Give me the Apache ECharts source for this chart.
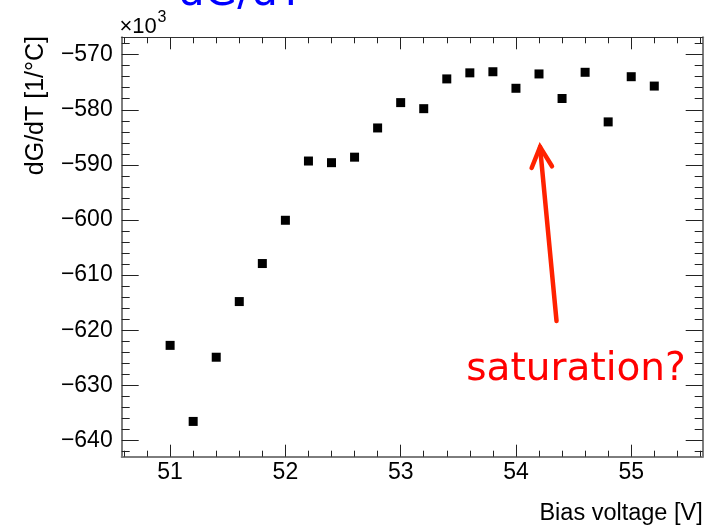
<!DOCTYPE html>
<html>
<head>
<meta charset="utf-8">
<script src="https://cdn.jsdelivr.net/npm/echarts@6/dist/echarts.min.js"></script>
<style>html,body{margin:0;padding:0;background:#fff;}#c{width:721px;height:528px;}</style>
</head>
<body>
<div id="c"></div>
<script>
// ---- data ----
const voltages = [51.0, 51.2, 51.4, 51.6, 51.8, 52.0, 52.2, 52.4, 52.6, 52.8, 53.0,
                  53.2, 53.4, 53.6, 53.8, 54.0, 54.2, 54.4, 54.6, 54.8, 55.0, 55.2];
const dGdT = [-622.75, -636.55, -624.9, -614.8, -607.9, -600.05, -589.3, -589.6, -588.6, -583.3, -578.7,
              -579.8, -574.4, -573.3, -573.1, -576.1, -573.5, -577.95, -573.2, -582.2, -574.0, -575.7];
const xMajorTicks = [51, 52, 53, 54, 55];
const yMajorTicks = [-640, -630, -620, -610, -600, -590, -580, -570];
const xRange = [50.58, 55.62];
const yRange = [-642.95, -566.85];
const titleText = 'dG/dT';
const xTitle = 'Bias voltage [V]';
const yTitle = 'dG/dT [1/°C]';
const exponentText = '×10';
const exponentSup = '3';
const annotationText = 'saturation?';
// arrow annotation in data coordinates: tail, tip, left wing, right wing
const arrowTail = [54.352, -618.34];
const arrowTip = [54.209, -586.74];
const arrowWingL = [54.136, -590.56];
const arrowWingR = [54.3125, -590.25];

// minor ticks (ROOT style: 5 divisions per major)
const xMinorTicks = [];
for (let k = 253; k <= 278; k++) { const v = Math.round(k * 2) / 10; if (v > xRange[0] && v < xRange[1] && Math.abs(v - Math.round(v)) > 1e-9) xMinorTicks.push(v); }
const yMinorTicks = [];
for (let v = -642; v <= -568; v += 2) { if (v % 10 !== 0) yMinorTicks.push(v); }

const FONT = '"Liberation Sans", Arial, Helvetica, sans-serif';
const frameGray = '#7d7d7d';
const tickColor = '#222';

function xAx(position, ticks, len, labels, showLine, lineColor, lineWidth) {
  return {
    type: 'value', position: position, min: xRange[0], max: xRange[1],
    axisLine: { show: showLine, onZero: false, lineStyle: { color: lineColor, width: lineWidth } },
    axisTick: { show: true, inside: true, length: len, customValues: ticks, lineStyle: { color: tickColor, width: 1 } },
    axisLabel: labels ? { show: true, customValues: ticks, color: '#000', fontFamily: FONT, fontSize: 23, margin: 4 } : { show: false },
    splitLine: { show: false }
  };
}
function yAx(position, ticks, len, labels, showLine) {
  return {
    type: 'value', position: position, min: yRange[0], max: yRange[1],
    axisLine: { show: showLine, onZero: false, lineStyle: { color: frameGray, width: 2 } },
    axisTick: { show: true, inside: true, length: len, customValues: ticks, lineStyle: { color: tickColor, width: 1 } },
    axisLabel: labels ? { show: true, customValues: ticks, color: '#000', fontFamily: FONT, fontSize: 23, margin: 9,
      formatter: v => String(v).replace('-', '\u2212') } : { show: false },
    splitLine: { show: false }
  };
}

const chart = echarts.init(document.getElementById('c'), null, { renderer: 'canvas' });
const option = {
  animation: false,
  backgroundColor: '#fff',
  grid: { left: 121.7, right: 18.3, top: 37.3, bottom: 71.3, containLabel: false },
  xAxis: [
    xAx('bottom', xMajorTicks, 12, true, true, frameGray, 2),
    xAx('bottom', xMinorTicks, 6, false, false, frameGray, 2),
    xAx('top', xMajorTicks, 12, false, true, '#333', 1.2),
    xAx('top', xMinorTicks, 6, false, false, '#333', 1)
  ],
  yAxis: [
    yAx('left', yMajorTicks, 17, true, true),
    yAx('left', yMinorTicks, 8, false, false),
    yAx('right', yMajorTicks, 17, false, true),
    yAx('right', yMinorTicks, 8, false, false)
  ],
  series: [{
    type: 'scatter', xAxisIndex: 0, yAxisIndex: 0,
    symbol: 'rect', symbolSize: 9,
    itemStyle: { color: '#000', opacity: 1 },
    data: voltages.map((v, i) => [v, dGdT[i]])
  }]
};
chart.setOption(option);

const P = p => chart.convertToPixel({ xAxisIndex: 0, yAxisIndex: 0 }, p);
const tail = P(arrowTail), tip = P(arrowTip), wl = P(arrowWingL), wr = P(arrowWingR);
chart.setOption({
  graphic: [
    { type: 'text', x: 178, y: -6, style: { text: titleText, fill: '#0000ff', font: '42px "DejaVu Sans", sans-serif', textAlign: 'left', textVerticalAlign: 'middle' } },
    { type: 'text', x: 119.5, y: 27, style: { text: exponentText, fill: '#000', font: '22px ' + FONT, textAlign: 'left', textVerticalAlign: 'middle' } },
    { type: 'text', x: 157.5, y: 18, style: { text: exponentSup, fill: '#000', font: '16px ' + FONT, textAlign: 'left', textVerticalAlign: 'middle' } },
    { type: 'text', x: 702.7, y: 514, style: { text: xTitle, fill: '#000', font: '23.5px ' + FONT, textAlign: 'right', textVerticalAlign: 'middle' } },
    { type: 'text', x: 36, y: 36, rotation: Math.PI / 2, style: { text: yTitle, fill: '#000', font: '25px ' + FONT, textAlign: 'right', textVerticalAlign: 'middle' } },
    { type: 'text', x: 576, y: 370, style: { text: annotationText, fill: '#ff0000', font: '39px "DejaVu Sans", sans-serif', textAlign: 'center', textVerticalAlign: 'middle' } },
    { type: 'polyline', shape: { points: [tail, tip] }, style: { stroke: '#ff2200', lineWidth: 4.5, lineCap: 'round', fill: null } },
    { type: 'polyline', shape: { points: [wl, tip, wr] }, style: { stroke: '#ff2200', lineWidth: 4.5, lineCap: 'round', lineJoin: 'miter', fill: null } }
  ]
});
</script>
</body>
</html>
